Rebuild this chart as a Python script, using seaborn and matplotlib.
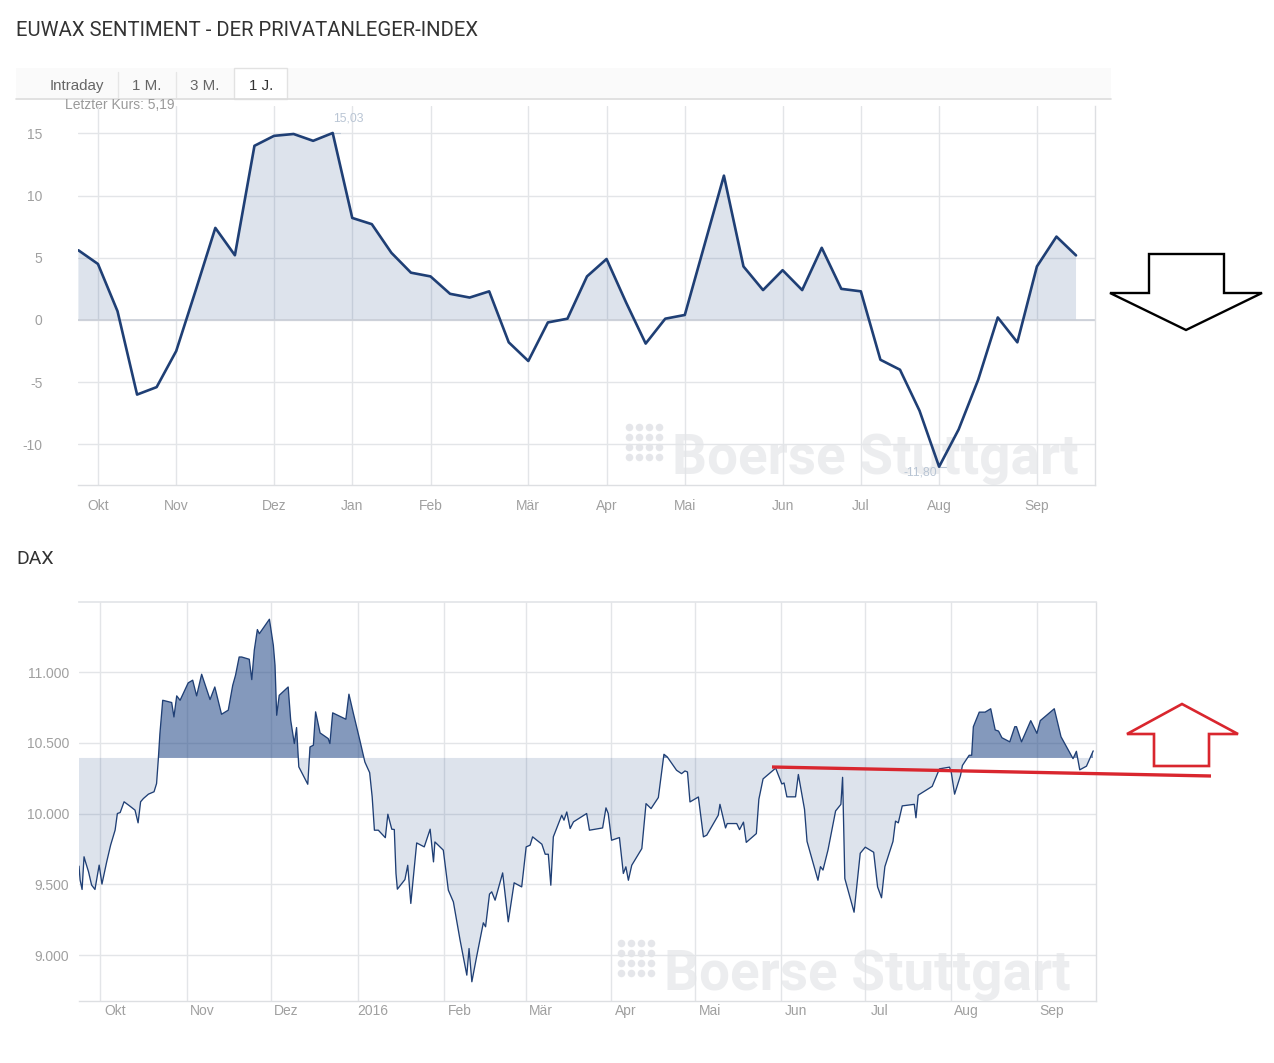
import numpy as np
import pandas as pd
import matplotlib
matplotlib.use("Agg")
import matplotlib.pyplot as plt
from matplotlib.patches import Polygon, Rectangle
from matplotlib.transforms import ScaledTranslation
import seaborn as sns

# --- EUWAX sentiment, one value per week ---
SENT_VALUES = [
    5.6, 4.5, 0.7, -6.0, -5.4, -2.5, 2.4, 7.4, 5.2, 14.0, 14.8, 14.95, 14.4, 15.03,
    8.2, 7.7, 5.4, 3.8, 3.5, 2.1, 1.8, 2.3, -1.8, -3.3, -0.2, 0.1, 3.5, 4.9, 1.4,
    -1.9, 0.1, 0.4, 6.0, 11.6, 4.3, 2.4, 4.0, 2.4, 5.8, 2.5, 2.3, -3.2, -4.0, -7.3,
    -11.8, -8.8, -4.8, 0.2, -1.8, 4.3, 6.7, 5.19,
]
SENT_MONTHS = ["Okt", "Nov", "Dez", "Jan", "Feb", "Mär", "Apr", "Mai", "Jun", "Jul", "Aug", "Sep"]
SENT_MONTH_WEEKS = [1, 5, 10, 14, 18, 23, 27, 31, 36, 40, 44, 49]
SENT_YTICKS = [-10, -5, 0, 5, 10, 15]

# --- DAX, days counted from 1 Oct 2015 ---
DAX_DAYS = [
    -7.5, -7.1, -6.4, -5.7, -5.2, -4.1, -3.0, -1.8, -0.3, 0.7, 2.4, 3.8, 5.4, 6.2, 7.2, 8.6,
    10.5, 12.5, 13.6, 14.5, 15.5, 17.3, 19.3, 20.2, 20.8, 21.4, 22.4, 25.6, 26.4, 27.4, 28.6,
    31.5, 33.1, 34.5, 36.3, 39.3, 41.0, 43.4, 45.8, 47.4, 48.4, 49.7, 50.6, 53.3, 54.2, 55.1,
    56.2, 56.9, 60.5, 61.9, 62.5, 63.1, 64.0, 67.2, 68.1, 69.4, 70.2, 71.0, 74.2, 75.0, 76.2,
    77.0, 78.6, 81.5, 82.1, 83.1, 87.8, 88.9, 90.5, 92.8, 94.6, 96.3, 97.2, 98.0, 99.4, 101.9,
    102.8, 104.2, 105.1, 105.7, 106.2, 108.9, 109.9, 111.0, 113.1, 115.8, 117.9, 119.1, 119.6,
    122.6, 124.4, 126.2, 128.6, 131.0, 131.8, 132.8, 134.5, 136.9, 137.7, 139.1, 139.9, 141.1,
    143.8, 145.8, 147.9, 150.6, 152.2, 153.6, 154.5, 157.8, 159.0, 160.1, 161.0, 161.9, 164.9,
    165.7, 166.7, 167.9, 169.1, 173.8, 174.8, 179.5, 180.7, 181.5, 182.7, 185.5, 186.9, 187.8,
    188.7, 189.9, 192.6, 193.5, 195.0, 196.8, 199.4, 201.4, 202.6, 205.9, 207.7, 208.9, 209.8,
    210.7, 213.7, 215.5, 216.7, 220.8, 221.4, 223.4, 224.0, 227.4, 228.4, 229.8, 230.8, 234.4,
    235.3, 236.8, 241.3, 243.5, 244.3, 245.3, 248.4, 249.4, 251.6, 252.5, 256.4, 257.3, 258.2,
    260.0, 262.7, 264.6, 265.2, 265.4, 266.0, 269.3, 271.5, 273.3, 276.3, 277.7, 279.1, 280.3,
    283.2, 284.1, 285.1, 286.5, 290.8, 291.4, 292.2, 297.2, 299.8, 303.4, 304.0, 305.2, 307.3,
    308.0, 310.4, 311.3, 311.9, 314.0, 316.1, 318.1, 319.7, 320.9, 322.1, 324.9, 326.7, 327.3,
    329.1, 332.4, 334.6, 335.8, 340.8, 343.2, 347.5, 348.7, 349.9, 352.3, 354.7,
]
DAX_VALUES = [
    9629, 9530, 9464, 9695, 9660, 9589, 9495, 9464, 9636, 9502, 9660, 9778, 9884, 10001, 10008, 10084,
    10056, 10025, 9935, 10084, 10107, 10138, 10155, 10213, 10378, 10567, 10802, 10786, 10684, 10833, 10802,
    10925, 10944, 10833, 10986, 10807, 10896, 10703, 10732, 10908, 10979, 11108, 11108, 11092, 10948, 11156,
    11302, 11273, 11375, 11191, 11050, 10696, 10837, 10896, 10661, 10496, 10609, 10331, 10208, 10472, 10484,
    10720, 10571, 10531, 10496, 10713, 10668, 10845, 10708, 10519, 10365, 10290, 10119, 9883, 9883, 9830,
    9996, 9890, 9888, 9577, 9466, 9534, 9635, 9365, 9793, 9765, 9890, 9659, 9800,
    9742, 9459, 9376, 9105, 8858, 9046, 8811, 8988, 9228, 9200, 9431, 9447, 9388,
    9581, 9235, 9511, 9482, 9765, 9777, 9836, 9784, 9713, 9713, 9494, 9836, 9989,
    9954, 10012, 9895, 9942, 10001, 9883, 9899, 10041, 10001, 9812, 9831, 9577, 9624,
    9529, 9635, 9723, 9753, 10071, 10036, 10114, 10420, 10401, 10307, 10283, 10302, 10295,
    10083, 10118, 9836, 9848, 9989, 10066, 9899, 9930, 9930, 9887, 9940, 9797, 9859,
    10102, 10246, 10322, 10210, 10217, 10119, 10119, 10277, 10031, 9804, 9529, 9625, 9601,
    9744, 10019, 10066, 10257, 10078, 9541, 9303, 9720, 9763, 9727, 9482, 9405, 9625,
    9804, 9947, 9935, 10055, 10066, 9971, 10131, 10193, 10317, 10329, 10293, 10138, 10269,
    10341, 10413, 10413, 10615, 10718, 10718, 10742, 10592, 10584, 10537, 10508, 10615, 10615,
    10508, 10658, 10568, 10658, 10742, 10544, 10389, 10441, 10310, 10336, 10444,
]
DAX_THRESHOLD = 10394
DAX_MONTHS = ["Okt", "Nov", "Dez", "2016", "Feb", "Mär", "Apr", "Mai", "Jun", "Jul", "Aug", "Sep"]
DAX_MONTH_DAYS = [0, 31, 61, 92, 123, 152, 182.5, 212.5, 243.2, 273.2, 304, 334.6]
DAX_YTICKS = [9000, 9500, 10000, 10500, 11000, 11500]
DAX_YLABELS = ["9.000", "9.500", "10.000", "10.500", "11.000", ""]

TAB_LABELS = ["Intraday", "1 M.", "3 M.", "1 J."]

# Hand drawn marks on top of the screenshot, in picture pixels
BLACK_ARROW = [(1110, 293), (1149, 293), (1149, 254), (1224, 254), (1224, 293), (1262, 293), (1186, 330)]
RED_ARROW = [(1127, 734), (1182, 704), (1238, 734), (1209, 734), (1209, 766), (1154, 766), (1154, 734)]
RED_LINE = [(772, 767), (1211, 776)]

W, H = 1274, 1063
NAVY = "#1F3F75"
FILL = "#1F4585"
GRID = "#E3E5E8"
TICK = "#A0A0A0"
LABEL = "#B9C5D4"

sns.set_theme(style="whitegrid", rc={
    "axes.edgecolor": GRID,
    "grid.color": GRID,
    "grid.linewidth": 1.0,
    "axes.axisbelow": True,
    "xtick.color": TICK,
    "ytick.color": TICK,
})
plt.rcParams["font.family"] = ["Liberation Sans", "DejaVu Sans"]


def px_axes(fig, left, top, right, bottom, zorder=1):
    """Axes placed from picture pixels."""
    ax = fig.add_axes([left / W, 1 - bottom / H, (right - left) / W, (bottom - top) / H], zorder=zorder)
    ax.patch.set_alpha(0)
    return ax


def watermark(ax, x, y):
    xs, ys = np.meshgrid(np.arange(4) * 10 + x, np.arange(4) * 10 + y)
    ax.scatter(xs.ravel(), ys.ravel(), s=30, marker="o", color="#D8DADF", alpha=0.65, linewidths=0)
    ax.text(x + 43, y + 32, "Boerse Stuttgart", fontsize=39.5, fontweight="bold", family="Roboto",
            color="#DADCE0", alpha=0.5, va="center", ha="left")


def style_axes(ax):
    for side in ("left", "top"):
        ax.spines[side].set_visible(False)
    for side in ("right", "bottom"):
        ax.spines[side].set_visible(True)
        ax.spines[side].set_color("#DDDFE2")
        ax.spines[side].set_linewidth(1.0)
    ax.set_xlabel("")
    ax.set_ylabel("")


fig = plt.figure(figsize=(W / 100, H / 100), dpi=100, facecolor="white")

# background layer: tabs, headings, watermarks
bg = px_axes(fig, 0, 0, W, H, zorder=0)
bg.set_xlim(0, W)
bg.set_ylim(H, 0)
bg.axis("off")
bg.text(16, 31, "EUWAX SENTIMENT - DER PRIVATANLEGER-INDEX", fontsize=14.6, family="Roboto",
        color="#333333", va="center")
bg.text(16, 559, "DAX", fontsize=14, family="Roboto", color="#333333", va="center")
bg.add_patch(Rectangle((16, 68), 1095, 30, color="#FAFAFA", lw=0))
bg.plot([16, 1111], [98.5, 98.5], color="#DCDCDC", lw=1.2)
bg.add_patch(Rectangle((234, 68), 53, 31, facecolor="white", edgecolor="#E2E2E2", lw=1))
for sep_x in (118, 176):
    bg.plot([sep_x, sep_x], [72, 97], color="#E6E6E6", lw=1)
for tab, tab_x in zip(TAB_LABELS, (77, 147, 205, 261)):
    bg.text(tab_x, 86, tab, fontsize=10.9, color="#666666" if tab != "1 J." else "#333333",
            ha="center", va="center")
bg.text(65, 105, "Letzter Kurs: 5,19", fontsize=10, color="#9A9A9A", va="center")
watermark(bg, 629, 427)
watermark(bg, 621, 943)

# sentiment chart
weeks = np.arange(len(SENT_VALUES))
sent = np.array(SENT_VALUES)
ax1 = px_axes(fig, 78.4, 106, 1095, 485)
ax1.fill_between(weeks, 0, sent, where=sent >= 0, interpolate=True, color=FILL, alpha=0.15, lw=0)
ax1.axhline(0, color="#C9CED6", lw=1.2, zorder=1.5)
sns.lineplot(data=pd.DataFrame({"week": weeks, "value": sent}), x="week", y="value",
             color=NAVY, lw=1.9, ax=ax1, zorder=3)
ax1.set_xlim(0, 51.97)
ax1.set_ylim(-13.27, 17.2)
ax1.set_xticks(SENT_MONTH_WEEKS, SENT_MONTHS, fontsize=10)
ax1.set_yticks(SENT_YTICKS, [str(t) for t in SENT_YTICKS], fontsize=10)
ax1.tick_params(axis="x", pad=10, length=0)
ax1.tick_params(axis="y", pad=26, length=0)
style_axes(ax1)

peak = int(np.argmax(sent))
low = int(np.argmin(sent))
ax1.plot([peak, peak + 0.35], [sent[peak], sent[peak]], color=LABEL, lw=0.8)
ax1.plot([low, low + 0.35], [sent[low], sent[low]], color=LABEL, lw=0.8)
ax1.annotate("15,03", (peak, sent[peak]), xytext=(0, 6), textcoords="offset points",
             fontsize=8.8, color=LABEL, ha="left", va="bottom")
ax1.annotate("-11,80", (low, sent[low]), xytext=(-1.5, -4), textcoords="offset points",
             fontsize=8.8, color=LABEL, ha="right", va="center")

# DAX chart
days = np.array(DAX_DAYS)
dax = np.array(DAX_VALUES)
ax2 = px_axes(fig, 79, 602, 1096, 1001)
ax2.fill_between(days, DAX_THRESHOLD, dax, where=dax <= DAX_THRESHOLD, interpolate=True,
                 color=FILL, alpha=0.15, lw=0)
ax2.fill_between(days, DAX_THRESHOLD, dax, where=dax >= DAX_THRESHOLD, interpolate=True,
                 color=FILL, alpha=0.55, lw=0)
sns.lineplot(data=pd.DataFrame({"day": days, "value": dax}), x="day", y="value",
             color=NAVY, lw=0.95, ax=ax2, zorder=3)
ax2.set_xlim(-7.5, 355.7)
ax2.set_ylim(8675, 11497)
ax2.set_xticks(DAX_MONTH_DAYS, DAX_MONTHS, fontsize=10)
ax2.set_yticks(DAX_YTICKS[:-1], DAX_YLABELS[:-1], fontsize=10)
ax2.tick_params(axis="x", pad=2.5, length=0)
ax2.tick_params(axis="y", pad=7, length=0)
style_axes(ax2)
ax2.spines["top"].set_visible(True)
ax2.spines["top"].set_color(GRID)
# month names sit right of their gridline on this chart
shift = ScaledTranslation(0.15, 0, fig.dpi_scale_trans)
for lab in ax2.get_xticklabels():
    lab.set_transform(lab.get_transform() + shift)

# hand drawn arrows and support line
fg = px_axes(fig, 0, 0, W, H, zorder=5)
fg.set_xlim(0, W)
fg.set_ylim(H, 0)
fg.axis("off")
fg.add_patch(Polygon(BLACK_ARROW, closed=True, fill=False, edgecolor="black", lw=1.7))
fg.add_patch(Polygon(RED_ARROW, closed=True, fill=False, edgecolor="#D9262E", lw=1.9))
fg.plot(*zip(*RED_LINE), color="#D9262E", lw=2.4, solid_capstyle="butt")

fig.savefig("out.png", dpi=100)
